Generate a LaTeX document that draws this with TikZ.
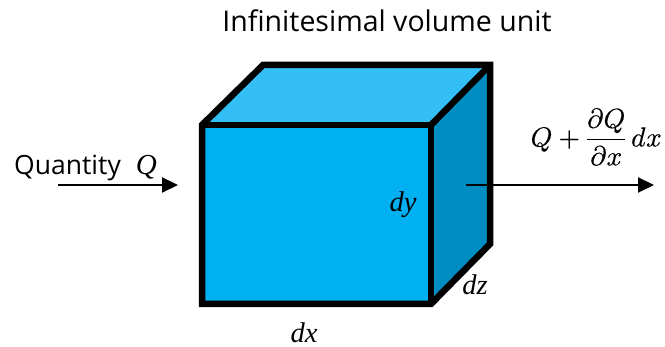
\documentclass[tikz,border=0pt]{standalone}
\usepackage{fontspec}
\usepackage{unicode-math}
\setmainfont{Open Sans}
\setmathfont[FakeBold=0.35]{Latin Modern Math}
\newfontfamily\varfont{Liberation Serif}
\usetikzlibrary{arrows.meta}
\definecolor{topc}{RGB}{51,191,245}
\definecolor{sidec}{RGB}{0,141,194}
\definecolor{frontc}{RGB}{0,176,240}
\tikzset{
  edge/.style={draw=black,line width=6.5pt,line join=miter},
  flow/.style={draw=black,line width=2.2pt,-{Triangle[length=16pt,width=15pt]}},
  lab/.style={font=\fontsize{26.5pt}{30pt}\selectfont,inner sep=0pt,text=black},
  titlelab/.style={font=\fontsize{28.5pt}{32pt}\selectfont,inner sep=0pt,text=black},
  varlab/.style={font=\fontsize{28.5pt}{32pt}\selectfont\varfont\itshape,inner sep=0pt,text=black},
  mathlab/.style={font=\fontsize{27.5pt}{32pt}\selectfont,inner sep=0pt,text=black}
}
\begin{document}
\begin{tikzpicture}[x=1pt,y=-1pt]
\useasboundingbox (0,0) rectangle (665,347);
\fill[white] (0,0) rectangle (665,347);
\coordinate (fa) at (202,125);
\coordinate (fb) at (431,125);
\coordinate (fc) at (431,304);
\coordinate (fd) at (202,304);
\coordinate (ba) at (263,65);
\coordinate (bb) at (490,65);
\coordinate (bc) at (490,244);
\fill[topc] (fa) -- (ba) -- (bb) -- (fb) -- cycle;
\fill[sidec] (fb) -- (bb) -- (bc) -- (fc) -- cycle;
\fill[frontc] (fa) -- (fb) -- (fc) -- (fd) -- cycle;
\draw[edge] (fa) -- (ba) -- (bb) -- (bc) -- (fc) -- (fd) -- cycle;
\draw[edge] (fa) -- (fb) -- (fc);
\draw[edge] (fb) -- (bb);
\node[titlelab,anchor=base] (title) at (387,32) {Infinitesimal volume unit};
\node[lab,anchor=base west] (q) at (14,175) {Quantity\hspace{8pt} {\varfont\itshape\fontsize{29pt}{32pt}\selectfont Q}};
\coordinate (q1) at (58,185);
\coordinate (q2) at (178,185);
\draw[flow] (q1) -- (q2);
\coordinate (o1) at (466,185);
\coordinate (o2) at (654,185);
\draw[flow] (o1) -- (o2);
\node[varlab,anchor=base] (dy) at (403,212) {dy};
\node[varlab,anchor=base] (dz) at (475,295) {dz};
\node[varlab,anchor=base] (dx) at (304,343) {dx};
\node[mathlab,anchor=east] (out) at (662,137) {$Q+\dfrac{\partial Q}{\partial x}\,dx$};
\end{tikzpicture}
\end{document}
